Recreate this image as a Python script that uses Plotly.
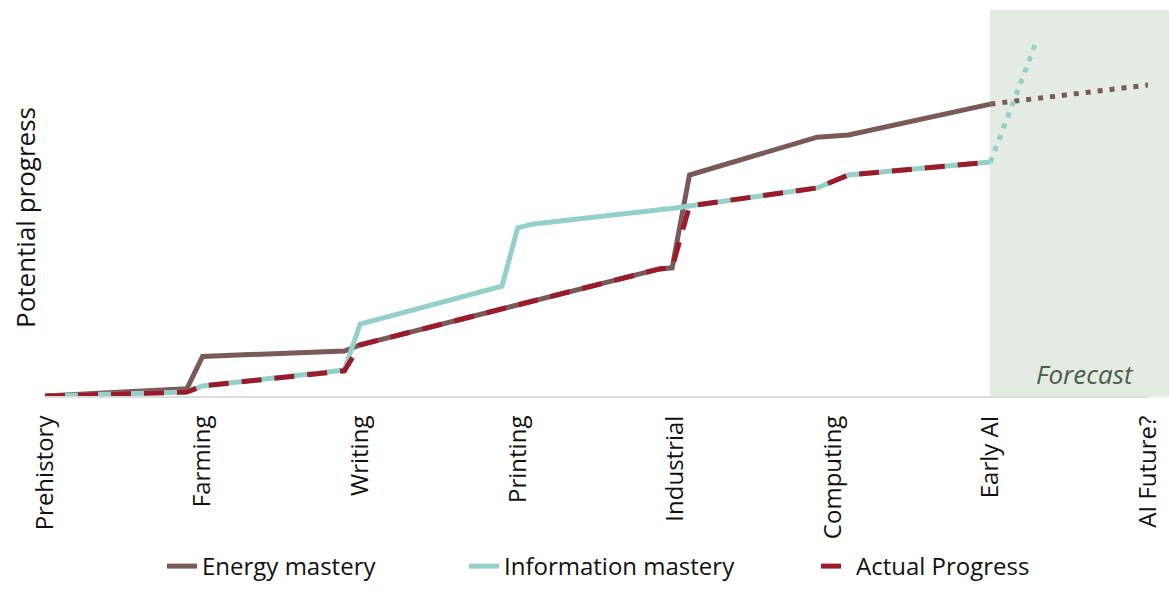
import plotly.graph_objects as go

# Eras along the horizontal axis
eras = ["Prehistory", "Farming", "Writing", "Printing", "Industrial",
        "Computing", "Early AI", "AI Future?"]
era_pos = list(range(len(eras)))

# Energy mastery (historical)
energy_x = [0, 0.9, 1.0, 1.9, 2.0, 3.0, 3.9, 3.98, 4.09, 4.9, 5.1, 6.0]
energy_y = [0, 2, 11, 12.5, 14.2, 25.3, 35.3, 35.6, 61.4, 71.9, 72.5, 81.1]
# Energy mastery (forecast)
energy_fx = [6.0, 7.0]
energy_fy = [81.1, 86.4]

# Information mastery (historical)
info_x = [0, 0.9, 1.0, 1.9, 2.0, 2.9, 3.0, 3.1, 4.0, 4.1, 4.9, 5.1, 6.0]
info_y = [0, 1.1, 2.8, 7.2, 20, 30.5, 46.7, 47.8, 52.2, 52.8, 57.8, 61.4, 65]
# Information mastery (forecast)
info_fx = [6.0, 6.4]
info_fy = [65, 111]

# Actual progress follows the weaker of the two
actual_x = [0, 0.9, 1.0, 1.9, 2.0, 3.0, 3.9, 3.98, 4.09, 4.9, 5.1, 6.0]
actual_y = [0, 1.1, 2.8, 7.0, 14.2, 25.3, 35.3, 35.6, 52.8, 57.8, 61.4, 65]

BROWN = "#7a5a58"
TEAL = "#93d1c8"
RED = "#9b1b2a"
FONT = "Open Sans"

fig = go.Figure()

fig.add_trace(go.Scatter(x=energy_fx, y=energy_fy, mode="lines", showlegend=False,
                         line=dict(color=BROWN, width=5, dash="5px,7px"), hoverinfo="skip"))
fig.add_trace(go.Scatter(x=info_fx, y=info_fy, mode="lines", showlegend=False,
                         line=dict(color=TEAL, width=5, dash="5px,7px"), hoverinfo="skip"))
fig.add_trace(go.Scatter(x=energy_x, y=energy_y, mode="lines", name="Energy mastery",
                         legend="legend", line=dict(color=BROWN, width=5)))
fig.add_trace(go.Scatter(x=info_x, y=info_y, mode="lines", name="Information mastery",
                         legend="legend2", line=dict(color=TEAL, width=5)))
fig.add_trace(go.Scatter(x=actual_x, y=actual_y, mode="lines", name="Actual Progress",
                         legend="legend3", line=dict(color=RED, width=5, dash="20px,13px")))

# Shaded forecast band
fig.add_shape(type="rect", xref="paper", yref="paper",
              x0=(990 - 45) / 1103, x1=1.02, y0=-0.003, y1=1 + 30 / 356,
              fillcolor="#e4ebe3", line=dict(width=0), layer="below")

fig.add_annotation(text="Forecast", xref="paper", yref="paper",
                   x=(1085 - 45) / 1103, y=(396 - 374) / 356,
                   xanchor="center", yanchor="middle", showarrow=False,
                   font=dict(family=FONT, size=26, color="#4b5e49", style="italic"))

fig.add_annotation(text="Potential progress", xref="paper", yref="paper",
                   x=-20 / 1103, y=0.5, xanchor="center", yanchor="middle",
                   textangle=-90, showarrow=False,
                   font=dict(family=FONT, size=26, color="#111111"))


def legend_box(left_px):
    return dict(orientation="h", xref="container", x=left_px / 1169, xanchor="left",
                yref="container", y=0.0, yanchor="bottom",
                font=dict(family=FONT, size=24, color="#111111"),
                bgcolor="rgba(0,0,0,0)")


fig.update_layout(
    width=1169, height=589,
    margin=dict(l=45, r=21, t=40, b=193, autoexpand=False),
    paper_bgcolor="white", plot_bgcolor="rgba(0,0,0,0)",
    font=dict(family=FONT, color="#111111"),
    legend=legend_box(162),
    legend2=legend_box(464),
    legend3=legend_box(816),
    xaxis=dict(range=[0, 7], tickvals=era_pos, ticktext=eras, tickangle=-90,
               showgrid=False, zeroline=False, showline=True, automargin=False,
               linecolor="#dcdcdc", linewidth=2, ticks="", ticklabelstandoff=8,
               tickfont=dict(family=FONT, size=24, color="#111111")),
    yaxis=dict(range=[0, 98.9], showgrid=False, zeroline=False, automargin=False,
               showticklabels=False, showline=False, ticks=""),
)

fig.write_html("out.html")
